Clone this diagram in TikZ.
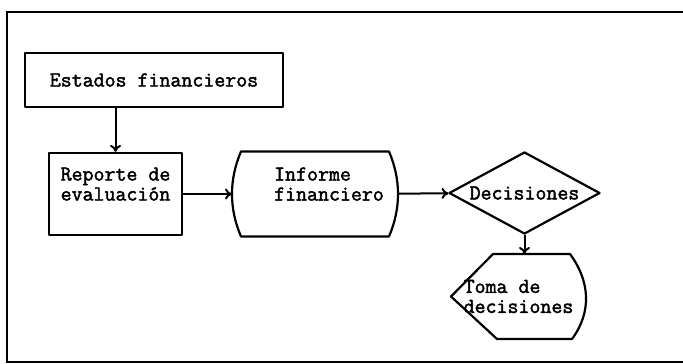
\documentclass[tikz,border=0pt]{standalone}
\usepackage{fontspec}
\newfontfamily\boxfont{Latin Modern Mono}[FakeBold=2]
\usetikzlibrary{shapes.geometric,arrows.meta}
\tikzset{
  box/.style={rectangle, minimum width=133pt, minimum height=82pt, inner sep=0pt, align=left},
  outline/.style={line width=2.2pt, line join=round}
}
\begin{document}
\begin{tikzpicture}[x=1pt,y=-1pt, line width=2pt,
    font=\boxfont\fontsize{21.3}{20}\selectfont,
    >={To[length=7pt,width=11pt]}]
  \useasboundingbox (0,0) rectangle (683,364);
  % marco
  \draw[line width=2.4pt] (683,12) -- (7,12) -- (7,362) -- (683,362);
  % nodos
  \node[box, draw, outline, minimum width=258pt, minimum height=54pt] (estados) at (154,80) {Estados financieros};
  \node[box, draw, outline] (reporte) at (115.5,194) {Reporte de\\evaluación\\\mbox{}};
  \node[box, minimum width=164pt, minimum height=83pt] (informe) at (315,194)
    {\hspace*{28pt}Informe\\\hspace*{28pt}financiero\\\mbox{}};
  \node[diamond, draw, outline, aspect=1.84, minimum width=151pt, minimum height=82pt, inner sep=0pt] (decisiones) at (524.5,193) {Decisiones};
  \node[box, minimum height=83pt] (toma) at (518.5,296.5) {Toma de\\decisiones};
  % contornos
  \draw[outline] ([xshift=9pt]informe.north west) -- ([xshift=-9pt]informe.north east)
    .. controls +(12pt,-28pt) and +(12pt,28pt) .. ([xshift=-9pt]informe.south east)
    -- ([xshift=9pt]informe.south west)
    .. controls +(-12pt,28pt) and +(-12pt,-28pt) .. ([xshift=9pt]informe.north west) -- cycle;
  \draw[outline] ([xshift=42pt]toma.north west) -- ([xshift=-16pt]toma.north east)
    .. controls +(20pt,-27pt) and +(20pt,27pt) .. ([xshift=-14pt]toma.south east)
    -- ([xshift=46pt]toma.south west) -- (toma.west) -- cycle;
  % flechas
  \begin{scope}[->]
    \draw (estados.south -| reporte) -- (reporte.north);
    \draw (reporte) -- (informe);
    \draw (informe) -- (decisiones);
    \draw (decisiones.south) -- (decisiones.south |- toma.north);
  \end{scope}
\end{tikzpicture}
\end{document}
